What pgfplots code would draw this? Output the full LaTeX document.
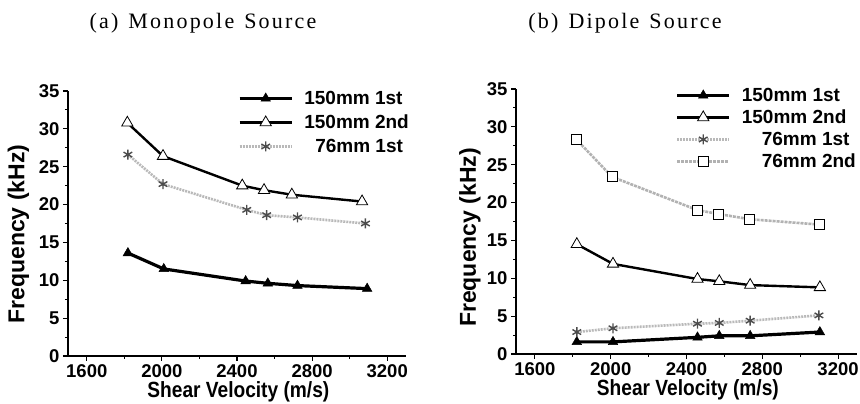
\documentclass[border=0pt]{standalone}
\usepackage{fontspec}
\usepackage{pgfplots}
\pgfplotsset{compat=1.18}
\setmainfont{Liberation Sans}
\newfontfamily\labfont{Liberation Sans}[FakeStretch=0.87]
\newfontfamily\titfont{Liberation Serif}[LetterSpace=10]
\pgfplotsset{
 myax/.style={
  scale only axis, width=338pt, height=265pt,
  xmin=1500, xmax=3300, ymin=0, ymax=35,
  axis x line*=bottom, axis y line*=left,
  axis line style={line width=1.2pt, -},
  xtick={1600,2000,2400,2800,3200}, ytick={0,5,...,35},
  minor x tick num=1, minor y tick num=1,
  tick align=outside,
  major tick length=5pt, minor tick length=3pt,
  every tick/.style={black, line width=1.1pt},
  tick label style={font=\bfseries\fontsize{18.5}{20}\selectfont},
  /pgf/number format/assume math mode=true,
  /pgf/number format/set thousands separator={},
  xlabel={Shear Velocity (m/s)},
  ylabel={Frequency (kHz)},
  xlabel style={font=\labfont\bfseries\fontsize{22}{24}\selectfont, at={(axis description cs:0.504,-0.136)}, anchor=center},
  ylabel style={font=\bfseries\fontsize{23}{26}\selectfont, anchor=center},
  legend style={draw=none, fill=none, anchor=north east, font=\bfseries\fontsize{19}{22}\selectfont, inner sep=0pt, row sep=5pt, /tikz/column 1/.style={column sep=9pt}},
  legend cell align=left,
  legend image code/.code={\draw[mark repeat=2,mark phase=2] plot coordinates {(0pt,0pt)(26pt,0pt)(52pt,0pt)};},
 },
 s1/.style={black, line width=3.2pt, mark=triangle*, mark size=5.5pt, mark options={solid, fill=black, line width=0.5pt}},
 s2/.style={black, line width=2.4pt, mark=triangle*, mark size=6.5pt, mark options={solid, fill=white, line width=0.8pt}},
 s3/.style={gray!55, line width=2.6pt, dash pattern=on 2pt off 1pt, mark=asterisk, mark size=5pt, mark options={solid, gray!60!black, line width=1.4pt}},
 s4/.style={gray!60, line width=2.6pt, dash pattern=on 3pt off 1pt, mark=square*, mark size=5pt, mark options={solid, draw=black, fill=white, line width=0.7pt}},
}
\begin{document}
\begin{tikzpicture}[x=1pt,y=1pt]
\path[use as bounding box] (0,0) rectangle (860,404);
\node[font=\titfont\fontsize{22}{26}\selectfont] at (203,381) {(a)\hspace{10pt}Monopole\hspace{10pt}Source};
\node[font=\titfont\fontsize{22}{26}\selectfont] at (625,381) {(b)\hspace{10pt}Dipole\hspace{10pt}Source};
\begin{axis}[myax, at={(68pt,48pt)}, anchor=south west,
  ylabel style={at={(axis description cs:-0.147,0.46)}},
  legend style={at={(axis description cs:1.015,1.008)}}]
\addplot[s1] coordinates {(1819,13.6)(2010,11.5)(2446,9.9)(2564,9.6)(2722,9.3)(3093,8.9)};
\addlegendentry{150mm 1st}
\addplot[s2] coordinates {(1816,30.8)(2006,26.4)(2428,22.5)(2544,21.9)(2692,21.3)(3066,20.4)};
\addlegendentry{150mm 2nd}
\addplot[s3] coordinates {(1819,26.6)(2006,22.7)(2452,19.3)(2558,18.6)(2722,18.3)(3084,17.5)};
\addlegendentry{\hspace*{11pt}76mm 1st}
\end{axis}
\begin{axis}[myax, width=341pt, at={(516pt,50pt)}, anchor=south west,
  ylabel style={at={(axis description cs:-0.135,0.44)}},
  legend style={at={(axis description cs:1.003,1.012)}, row sep=3pt}]
\addplot[s1] coordinates {(1821,1.6)(2012,1.6)(2458,2.2)(2573,2.4)(2736,2.4)(3104,2.9)};
\addlegendentry{150mm 1st}
\addplot[s2] coordinates {(1821,14.5)(2012,11.9)(2458,9.9)(2573,9.6)(2736,9.1)(3104,8.8)};
\addlegendentry{150mm 2nd}
\addplot[s3] coordinates {(1821,2.9)(2012,3.4)(2458,4.0)(2573,4.1)(2736,4.4)(3099,5.1)};
\addlegendentry{\hspace*{20pt}76mm 1st}
\addplot[s4] coordinates {(1816,28.4)(2007,23.4)(2458,19.0)(2568,18.5)(2733,17.8)(3099,17.1)};
\addlegendentry{\hspace*{20pt}76mm 2nd}
\end{axis}
\end{tikzpicture}
\end{document}
